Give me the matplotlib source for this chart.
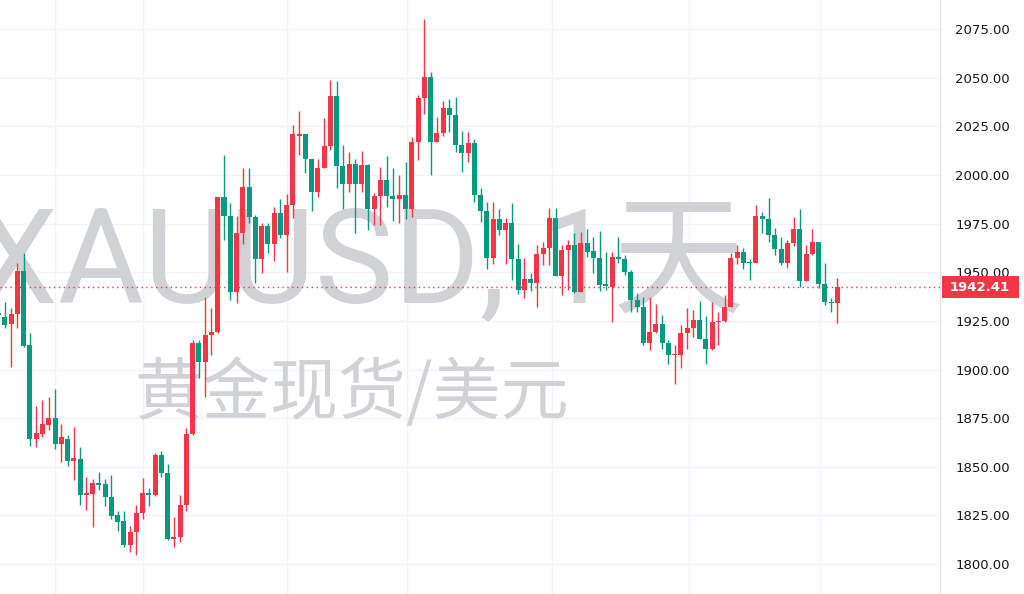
import numpy as np
import matplotlib
matplotlib.use("Agg")
import matplotlib.pyplot as plt
from matplotlib.patches import Rectangle
from matplotlib.transforms import blended_transform_factory

# daily OHLC for XAUUSD
opens = [1929.0, 1927.2, 1923.4, 1928.6, 1950.7, 1912.6, 1864.3, 1866.9, 1871.5, 1875.3,
         1861.7, 1864.3, 1853.1, 1854.0, 1835.5, 1836.0, 1841.5, 1841.1, 1834.6, 1825.2,
         1822.1, 1809.8, 1816.6, 1826.4, 1836.3, 1835.4, 1856.0, 1846.6, 1813.1, 1813.7,
         1830.3, 1866.8, 1913.8, 1904.0, 1917.7, 1919.4, 1988.5, 1978.9, 1940.0, 1970.0,
         1993.6, 1978.6, 1956.6, 1973.8, 1964.3, 1980.6, 1969.1, 1984.6, 2020.0, 2020.9,
         2008.0, 1991.4, 2003.7, 2014.9, 2040.7, 2004.6, 1995.2, 2005.6, 1995.2, 2005.1,
         1982.5, 1989.2, 1997.4, 1989.2, 1987.6, 1989.7, 1982.5, 2016.8, 2039.4, 2050.5,
         2016.8, 2021.4, 2034.7, 2030.8, 2015.4, 2011.4, 2016.7, 1989.7, 1981.6, 1957.4,
         1977.3, 1971.7, 1975.1, 1956.7, 1941.1, 1946.3, 1944.6, 1959.3, 1962.7, 1977.7,
         1948.0, 1961.7, 1964.0, 1940.0, 1965.1, 1961.0, 1957.6, 1943.9, 1942.6, 1958.0,
         1956.8, 1950.3, 1936.0, 1932.3, 1913.8, 1919.4, 1923.4, 1913.4, 1907.4, 1907.4,
         1918.6, 1921.5, 1925.4, 1915.5, 1910.8, 1924.6, 1925.1, 1932.3, 1957.1, 1960.5,
         1955.4, 1954.9, 1978.9, 1977.2, 1969.1, 1961.8, 1954.6, 1965.2, 1972.1, 1945.7,
         1959.4, 1965.7, 1944.0, 1934.9, 1934.0]
highs = [1931.0, 1934.9, 1931.5, 1954.6, 1959.7, 1918.6, 1881.3, 1884.3, 1886.0, 1890.0,
         1872.0, 1866.3, 1870.6, 1860.0, 1844.6, 1843.6, 1847.5, 1843.6, 1845.8, 1827.4,
         1827.4, 1819.6, 1830.4, 1844.1, 1838.9, 1856.9, 1858.2, 1851.4, 1824.0, 1835.4,
         1869.7, 1915.1, 1915.1, 1937.4, 1931.9, 1988.5, 2010.3, 1985.4, 1978.9, 2003.4,
         2003.4, 1979.4, 1975.1, 1975.1, 1983.7, 1987.5, 1990.5, 2025.7, 2033.0, 2021.0,
         2008.0, 2008.0, 2029.1, 2049.1, 2048.3, 2015.4, 2012.0, 2008.5, 2012.5, 2005.6,
         1990.9, 2003.9, 2009.7, 2003.4, 1999.9, 2006.5, 2019.7, 2041.1, 2080.0, 2053.1,
         2029.6, 2038.2, 2039.0, 2040.0, 2022.7, 2022.2, 2018.3, 1993.1, 1986.2, 1986.2,
         1982.8, 1977.7, 1985.4, 1964.5, 1957.1, 1949.7, 1964.0, 1965.7, 1983.3, 1983.3,
         1964.0, 1966.5, 1970.3, 1970.8, 1972.5, 1968.2, 1971.4, 1960.5, 1960.5, 1967.9,
         1958.8, 1951.1, 1939.1, 1937.4, 1937.1, 1933.6, 1928.0, 1915.1, 1912.6, 1922.8,
         1931.4, 1930.6, 1935.4, 1927.5, 1934.8, 1929.7, 1938.3, 1959.7, 1964.0, 1962.3,
         1956.6, 1984.6, 1981.2, 1988.0, 1972.6, 1968.3, 1966.6, 1978.6, 1982.4, 1964.0,
         1972.1, 1965.7, 1954.9, 1936.6, 1946.9]
lows = [1925.5, 1921.2, 1901.5, 1921.2, 1911.4, 1860.9, 1860.3, 1865.1, 1868.9, 1859.1,
        1852.3, 1850.4, 1843.2, 1830.4, 1827.8, 1818.9, 1838.1, 1830.0, 1823.0, 1817.2,
        1808.9, 1806.4, 1804.6, 1823.0, 1829.8, 1834.9, 1844.9, 1812.6, 1808.9, 1811.4,
        1827.4, 1866.3, 1895.4, 1886.0, 1907.4, 1918.6, 1966.5, 1935.7, 1934.3, 1964.8,
        1975.5, 1944.3, 1949.4, 1959.7, 1955.9, 1967.4, 1950.3, 1977.7, 2010.2, 2000.8,
        1981.4, 1988.8, 2003.4, 2012.8, 1993.1, 1982.6, 1991.4, 1970.0, 1991.4, 1971.7,
        1974.2, 1974.2, 1983.7, 1976.5, 1975.1, 1977.2, 1978.2, 2007.7, 2031.3, 1999.9,
        2016.8, 2020.0, 2022.2, 2011.9, 2001.6, 2006.8, 1986.2, 1975.9, 1951.9, 1954.5,
        1969.1, 1954.5, 1946.0, 1938.7, 1937.0, 1940.5, 1932.2, 1953.7, 1953.7, 1948.0,
        1938.2, 1940.8, 1939.5, 1940.0, 1958.0, 1949.4, 1940.5, 1940.8, 1924.6, 1954.9,
        1948.5, 1929.7, 1929.7, 1912.6, 1910.0, 1918.9, 1910.8, 1903.1, 1892.8, 1900.6,
        1910.8, 1916.8, 1915.5, 1903.1, 1910.0, 1912.6, 1924.6, 1932.3, 1954.5, 1951.5,
        1946.0, 1954.6, 1970.0, 1965.7, 1958.9, 1953.7, 1952.0, 1963.5, 1942.6, 1945.7,
        1958.9, 1941.7, 1933.2, 1929.7, 1924.1]
closes = [1928.0, 1922.9, 1928.6, 1950.7, 1912.1, 1864.3, 1867.2, 1871.8, 1875.3, 1861.7,
          1865.1, 1853.1, 1854.3, 1835.5, 1836.3, 1841.5, 1840.6, 1834.6, 1824.7, 1821.8,
          1809.8, 1816.6, 1826.4, 1836.3, 1835.4, 1856.0, 1846.6, 1813.1, 1814.0, 1830.3,
          1867.1, 1913.8, 1904.0, 1917.7, 1919.4, 1988.5, 1978.9, 1940.0, 1970.0, 1993.6,
          1978.2, 1956.6, 1973.8, 1964.3, 1980.6, 1969.1, 1984.6, 2021.1, 2020.9, 2008.0,
          1991.4, 2003.7, 2014.9, 2040.7, 2004.6, 1995.2, 2005.6, 1995.2, 2005.1, 1982.5,
          1989.2, 1997.4, 1989.2, 1987.6, 1989.7, 1982.5, 2016.8, 2039.4, 2050.5, 2016.8,
          2021.4, 2034.7, 2030.8, 2015.4, 2011.4, 2016.7, 1989.7, 1981.6, 1957.4, 1977.3,
          1971.7, 1975.1, 1956.7, 1941.1, 1946.3, 1944.6, 1959.3, 1962.7, 1977.7, 1948.0,
          1961.7, 1964.0, 1940.0, 1965.1, 1960.5, 1957.6, 1943.4, 1942.9, 1958.0, 1956.8,
          1950.3, 1936.0, 1932.3, 1913.8, 1919.4, 1923.4, 1913.4, 1907.4, 1907.9, 1918.6,
          1921.5, 1925.4, 1915.5, 1910.8, 1924.6, 1925.1, 1932.3, 1957.1, 1960.5, 1954.9,
          1954.9, 1978.9, 1977.2, 1969.1, 1961.8, 1954.6, 1965.2, 1972.1, 1945.7, 1959.4,
          1965.7, 1944.0, 1934.9, 1934.0, 1942.41]

price_ticks = [1800, 1825, 1850, 1875, 1900, 1925, 1950, 1975, 2000, 2025, 2050, 2075]
last_price = 1942.41
month_lines = [9.0, 23.05, 46.05, 65.2, 88.4, 110.3, 131.2]  # bar index of month starts

UP = "#f23645"    # red = rise
DOWN = "#089981"  # green = fall

o = np.array(opens)
h = np.array(highs)
l = np.array(lows)
c = np.array(closes)
x = np.arange(len(o))
cols = np.where(c >= o, UP, DOWN)

fig = plt.figure(figsize=(10.24, 5.94), dpi=100)
ax = fig.add_axes([0, 0, 940 / 1024, 1])
ax.set_facecolor("white")

# grid
for p in price_ticks:
    ax.axhline(p, color="#f0f3fa", lw=1, zorder=0)
for m in month_lines:
    ax.axvline(m, color="#f0f3fa", lw=1, zorder=0)

# watermark
ax.text(360 / 940, (594 - 302) / 594, "XAUUSD, 1天", transform=ax.transAxes,
        ha="center", va="baseline", fontsize=95, color="#d1d2d6",
        family=["Roboto", "Noto Sans CJK SC"], zorder=0.5)
ax.text(352 / 940, (594 - 395) / 594, "黄金现货/美元", transform=ax.transAxes,
        ha="center", va="center", fontsize=49, color="#d1d2d6",
        family=["Noto Sans CJK SC", "DejaVu Sans"], zorder=0.5)

# candles
ax.vlines(x, l, h, colors=cols, lw=1, zorder=2)
body_lo = np.minimum(o, c)
body_h = np.maximum(np.abs(c - o), 0.6)
ax.bar(x, body_h, bottom=body_lo, width=0.8, color=cols, linewidth=0, zorder=3)

# last price line + label on the scale
ax.axhline(last_price, color=UP, lw=1, linestyle=(0, (1, 2.5)), zorder=4)
tr = blended_transform_factory(ax.transAxes, ax.transData)
ax.add_patch(Rectangle((1 + 2 / 940, last_price - 5.6), 77 / 940, 11.3, transform=tr,
                       facecolor=UP, edgecolor="none", clip_on=False, zorder=6))
ax.text(1 + 40 / 940, last_price, f"{last_price:.2f}", transform=tr, ha="center",
        va="center", color="white", fontsize=9.5, fontweight="bold", zorder=7,
        clip_on=False)

ax.set_xlim(0.21, 150.4)
ax.set_ylim(1784.6, 2090.0)
ax.set_xticks([])
ax.yaxis.tick_right()
ax.set_yticks(price_ticks)
ax.set_yticklabels([f"{p:.2f}" for p in price_ticks])
ax.tick_params(axis="y", length=0, pad=11, labelsize=9.5, labelcolor="#131722")
for s in ["top", "left", "bottom"]:
    ax.spines[s].set_visible(False)
ax.spines["right"].set_color("#e0e3eb")

fig.savefig("out.png", dpi=100)
